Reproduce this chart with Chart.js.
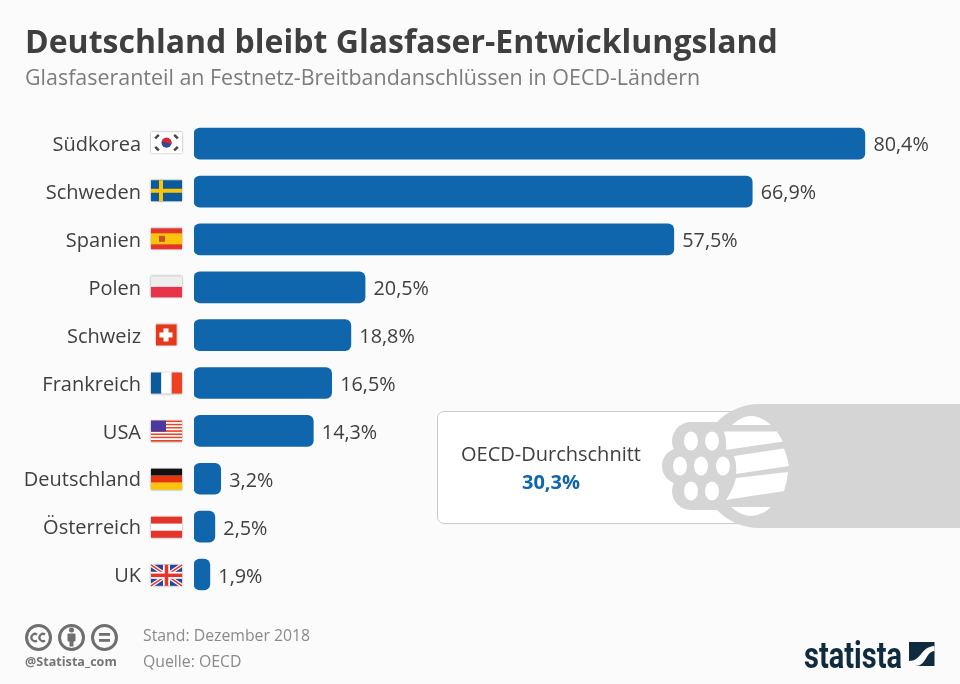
<!DOCTYPE html>
<html>
<head>
<meta charset="utf-8">
<script src="https://cdn.jsdelivr.net/npm/chart.js@4"></script>
<style>
body { margin: 0; background: #fbfbfb; font-family: "Open Sans", sans-serif; }
#wrap { position: relative; width: 960px; height: 684px; overflow: hidden; }
#myChart { position: absolute; left: 0; top: 0; }
.txt { position: absolute; white-space: nowrap; line-height: 1; }
#title { left: 25px; top: 25px; font-size: 32px; font-weight: 700; color: #3f3f3f; }
#subtitle { left: 25px; top: 66px; font-size: 21.45px; color: #7c7c7c; }
#box { position: absolute; left: 437px; top: 411px; width: 320px; height: 113px; background: #fff;
  border: 1px solid #c9c9c9; border-radius: 7px; box-sizing: border-box; }
#avgName { left: 461px; top: 444px; font-size: 20px; color: #3f3f3f; }
#avgValue { left: 461px; width: 180px; text-align: center; top: 472px; font-size: 20px; font-weight: 700; color: #0f66ad; }
#stand { left: 143px; top: 628px; font-size: 15.8px; color: #8a8a8a; }
#quelle { left: 143px; top: 654px; font-size: 15.8px; color: #8a8a8a; }
#handle { left: 25px; top: 656px; font-size: 12.6px; font-weight: 700; color: #757575; }
svg { position: absolute; left: 0; top: 0; }
</style>
</head>
<body>
<div id="wrap">
  <canvas id="myChart" width="960" height="684"></canvas>
  <div id="box"></div>
  <svg width="960" height="684" viewBox="0 0 960 684">
    <!-- cable -->
    <g transform="translate(4 0)">
      <g fill="#d5d5d5">
        <path d="M960 404H756C738 404 724 411 713 422H687V510H713C724 521 738 528 756 528H960Z"/>
        <circle cx="687" cy="441" r="19"/><circle cx="708" cy="441" r="19"/>
        <circle cx="676" cy="466" r="18"/><circle cx="697" cy="466" r="18"/><circle cx="719" cy="466" r="18"/>
        <circle cx="687" cy="491" r="19"/><circle cx="708" cy="491" r="19"/>
      </g>
      <g fill="#fff">
        <ellipse cx="687" cy="441" rx="7" ry="9.5"/><ellipse cx="708" cy="441" rx="7" ry="9.5"/>
        <ellipse cx="676" cy="466" rx="7" ry="9.5"/><ellipse cx="697" cy="466" rx="7" ry="9.5"/><ellipse cx="719" cy="466" rx="7" ry="9.5"/>
        <ellipse cx="687" cy="491" rx="7" ry="9.5"/><ellipse cx="708" cy="491" rx="7" ry="9.5"/>
        <path d="M728 425Q747 407 767 425Z"/>
        <path d="M720 431.5H773L779 441.5L722 450Q723 440 720 431.5Z"/>
        <path d="M730 456L780 448.5Q783 456 785 466L732 474Q733 464 730 456Z"/>
        <path d="M732 478L784 472Q783 482 780 491L722 500Q729 490 732 478Z"/>
        <path d="M727 507H767Q748 525 727 507Z"/>
      </g>
    </g>
    <!-- licence icons -->
    <g fill="none" stroke="#6f6f6f" stroke-width="3">
      <circle cx="38.5" cy="637.5" r="12"/><circle cx="71.5" cy="637.5" r="12"/><circle cx="104.5" cy="637.5" r="12"/>
      <path d="M37 634.5a3.6 3.6 0 1 0 0 6M45 634.5a3.6 3.6 0 1 0 0 6" stroke-width="2.2"/>
    </g>
    <g fill="#6f6f6f">
      <circle cx="71.5" cy="630" r="2.5"/><rect x="67.5" y="633.5" width="8" height="8" rx="1"/><rect x="69.5" y="640" width="4" height="6.5"/>
      <rect x="99" y="633" width="11" height="2.8"/><rect x="99" y="639" width="11" height="2.8"/>
    </g>
    <!-- logo -->
    <text x="804" y="667.5" font-family="Roboto, sans-serif" font-weight="700" font-size="36" fill="#0f2b40" textLength="98" lengthAdjust="spacingAndGlyphs">statista</text>
    <path d="M909 642H934.5V666H909Z" fill="#0f2b40"/>
    <path d="M909 661C922 661 920 647 934.5 646V651C925 652 927 666 915 666H909Z" fill="#fbfbfb"/>
  </svg>
  <div class="txt" id="title">Deutschland bleibt Glasfaser-Entwicklungsland</div>
  <div class="txt" id="subtitle">Glasfaseranteil an Festnetz-Breitbandanschlüssen in OECD-Ländern</div>
  <div class="txt" id="avgName">OECD-Durchschnitt</div>
  <div class="txt" id="avgValue"></div>
  <div class="txt" id="stand">Stand: Dezember 2018</div>
  <div class="txt" id="quelle">Quelle: OECD</div>
  <div class="txt" id="handle">@Statista_com</div>
</div>
<script>
var countries = ["Südkorea", "Schweden", "Spanien", "Polen", "Schweiz", "Frankreich", "USA", "Deutschland", "Österreich", "UK"];
var shares = [80.4, 66.9, 57.5, 20.5, 18.8, 16.5, 14.3, 3.2, 2.5, 1.9];
var flagCodes = ["kr", "se", "es", "pl", "ch", "fr", "us", "de", "at", "gb"];
var oecdAverage = 30.3;

function fmt(v) {
  return v.toFixed(1).replace(".", ",") + "%";
}
document.getElementById("avgValue").textContent = fmt(oecdAverage);

function hStripes(c, x, y, w, h, cols) {
  cols.forEach(function(col, i) {
    c.fillStyle = col;
    c.fillRect(x, y + h * i / cols.length, w, h / cols.length);
  });
}
function line(c, col, lw, x1, y1, x2, y2) {
  c.strokeStyle = col;
  c.lineWidth = lw;
  c.beginPath();
  c.moveTo(x1, y1);
  c.lineTo(x2, y2);
  c.stroke();
}

// flags, x,y is the top left corner
var flags = {
  kr: function(c, x, y, w, h) {
    c.fillStyle = "#fff"; c.fillRect(x, y, w, h);
    var cx = x + w / 2, cy = y + h / 2;
    c.fillStyle = "#2a4a9c"; c.beginPath(); c.arc(cx, cy, 5, 0, Math.PI * 2); c.fill();
    c.fillStyle = "#e0252f"; c.beginPath(); c.arc(cx, cy, 5, Math.PI * 1.1, Math.PI * 0.1); c.fill();
    [[-1, -1], [1, -1], [-1, 1], [1, 1]].forEach(function(d) {
      line(c, "#444", 2.5, cx + d[0] * 9.5 - d[1] * 1.8, cy + d[1] * 6 + d[0] * 1.8, cx + d[0] * 9.5 + d[1] * 1.8, cy + d[1] * 6 - d[0] * 1.8);
    });
  },
  se: function(c, x, y, w, h) {
    c.fillStyle = "#0a5a9c"; c.fillRect(x, y, w, h);
    c.fillStyle = "#fcc30b"; c.fillRect(x + 8, y, 4, h); c.fillRect(x, y + 8.5, w, 4);
  },
  es: function(c, x, y, w, h) {
    c.fillStyle = "#e5352b"; c.fillRect(x, y, w, h);
    c.fillStyle = "#fcc30b"; c.fillRect(x, y + 5, w, 11);
    c.fillStyle = "#c9502a"; c.fillRect(x + 8, y + 7.5, 6, 6);
  },
  pl: function(c, x, y, w, h) { hStripes(c, x, y, w, h, ["#eeeeee", "#e8334a"]); },
  ch: function(c, x, y, w, h) {
    c.fillStyle = "#e8381b"; c.fillRect(x, y, w, h);
    c.fillStyle = "#fff"; c.fillRect(x + 7.5, y + 4, 5, 13); c.fillRect(x + 3.5, y + 8, 13, 5);
  },
  fr: function(c, x, y, w, h) {
    c.fillStyle = "#0a5a9c"; c.fillRect(x, y, w / 3, h);
    c.fillStyle = "#fff"; c.fillRect(x + w / 3, y, w / 3, h);
    c.fillStyle = "#ee4023"; c.fillRect(x + w * 2 / 3, y, w / 3, h);
  },
  us: function(c, x, y, w, h) {
    var s = [];
    for (var i = 0; i < 13; i++) s.push(i % 2 ? "#fff" : "#ee4023");
    hStripes(c, x, y, w, h, s);
    c.fillStyle = "#4a3aa0"; c.fillRect(x, y, 15, 11);
  },
  de: function(c, x, y, w, h) { hStripes(c, x, y, w, h, ["#111111", "#e5350f", "#fcc30b"]); },
  at: function(c, x, y, w, h) { hStripes(c, x, y, w, h, ["#e5352b", "#ffffff", "#e5352b"]); },
  gb: function(c, x, y, w, h) {
    c.fillStyle = "#2b4596"; c.fillRect(x, y, w, h);
    line(c, "#fff", 4, x, y, x + w, y + h); line(c, "#fff", 4, x + w, y, x, y + h);
    line(c, "#e5352b", 1.5, x, y, x + w, y + h); line(c, "#e5352b", 1.5, x + w, y, x, y + h);
    c.fillStyle = "#fff"; c.fillRect(x + w / 2 - 3.5, y, 7, h); c.fillRect(x, y + h / 2 - 3.5, w, 7);
    c.fillStyle = "#e5352b"; c.fillRect(x + w / 2 - 1.75, y, 3.5, h); c.fillRect(x, y + h / 2 - 1.75, w, 3.5);
  }
};

var barExtras = {
  id: "barExtras",
  afterDatasetsDraw: function(chart) {
    var c = chart.ctx;
    var bars = chart.getDatasetMeta(0).data;
    var yScale = chart.scales.y;
    c.save();
    c.font = "19.8px 'Open Sans'";
    c.fillStyle = "#3f3f3f";
    c.textAlign = "left";
    c.textBaseline = "middle";
    bars.forEach(function(bar, i) {
      c.fillText(fmt(shares[i]), bar.x + 8.5, bar.y + 1.5 + i * 0.15);
    });
    // flags sit a touch lower down the list than the bars do
    flagCodes.forEach(function(code, i) {
      var top = yScale.getPixelForValue(i) - 11.5 + i * 0.2;
      var w = code === "ch" ? 20.5 : 31;
      var x = code === "ch" ? 156 : 151;
      c.save();
      c.shadowColor = "rgba(0,0,0,0.4)";
      c.shadowBlur = 2;
      c.fillStyle = "#ddd";
      c.fillRect(x, top, w, 21);
      c.restore();
      flags[code](c, x, top, w, 21);
    });
    c.restore();
  }
};

new Chart("myChart", {
  type: "bar",
  plugins: [barExtras],
  data: {
    labels: countries,
    datasets: [{
      data: shares,
      backgroundColor: "#0f66ad",
      borderRadius: 6,
      borderSkipped: false,
      barThickness: 31
    }]
  },
  options: {
    indexAxis: "y",
    responsive: false,
    animation: false,
    layout: { padding: { top: 119.75, bottom: 85.55, left: 0, right: 0 } },
    plugins: { legend: { display: false }, tooltip: { enabled: false } },
    scales: {
      x: { display: false, min: 0, max: 91.8 },
      y: {
        afterFit: function(scale) {
          scale.width = 194;
          // tick labels sit about 2px below the bar centres
          if (!scale.labelsMoved) {
            var drawLabels = scale.drawLabels;
            scale.drawLabels = function(area) {
              this.ctx.save();
              this.ctx.translate(0, 2);
              drawLabels.call(this, area);
              this.ctx.restore();
            };
            scale.labelsMoved = true;
          }
        },
        grid: { display: false, drawTicks: false },
        border: { display: false },
        ticks: { color: "#3f3f3f", padding: 53, font: { family: "'Open Sans'", size: 20 } }
      }
    }
  }
});
</script>
</body>
</html>
